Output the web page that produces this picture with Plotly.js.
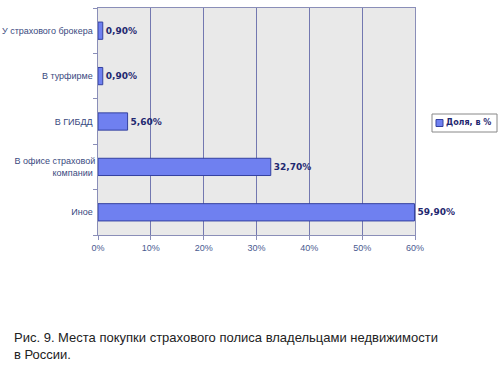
<!DOCTYPE html>
<html>
<head>
<meta charset="utf-8">
<script src="https://cdn.plot.ly/plotly-3.0.1.min.js"></script>
<style>html,body{margin:0;padding:0;background:#fff;}#chart{width:500px;height:365px;}</style>
</head>
<body>
<div id="chart"></div>
<script>
var categories = ["Иное", "В офисе страховой<br>компании", "В ГИБДД", "В турфирме", "У страхового брокера"];
var values = [59.9, 32.7, 5.6, 0.9, 0.9];
var valueLabels = ["59,90%", "32,70%", "5,60%", "0,90%", "0,90%"];
var tickVals = [0, 10, 20, 30, 40, 50, 60];
var tickText = ["0%", "10%", "20%", "30%", "40%", "50%", "60%"];
var seriesName = "Доля, в %";
var caption = "Рис. 9. Места покупки страхового полиса владельцами недвижимости<br>в России.";

var barColor = "#6f80f0", barLine = "#3340a0";

var trace = {
  type: "bar",
  orientation: "h",
  x: values,
  y: categories,
  name: seriesName,
  text: valueLabels,
  textposition: "outside",
  texttemplate: "%{text}",
  cliponaxis: false,
  textfont: {family: "Verdana, DejaVu Sans, sans-serif", size: 9, color: "#1f2870", weight: "bold"},
  marker: {color: barColor, line: {color: barLine, width: 1}},
  hoverinfo: "none"
};

var L = 98, R = 85, T = 8, B = 130;
var plotW = 500 - L - R, plotH = 365 - T - B;
function px(x) { return (x - L) / plotW; }
function py(y) { return (365 - B - y) / plotH; }

var layout = {
  width: 500, height: 365,
  margin: {l: L, r: R, t: T, b: B, autoexpand: false},
  paper_bgcolor: "#ffffff",
  plot_bgcolor: "#e9e9e9",
  bargap: 0.62,
  showlegend: false,
  xaxis: {
    range: [0, 60], tickvals: tickVals, ticktext: tickText,
    showgrid: true, gridcolor: "#7378b0", gridwidth: 1,
    zeroline: false, showline: true, linecolor: "#8a8eb8", mirror: true,
    ticks: "outside", ticklen: 4, tickcolor: "#8a8eb8",
    tickfont: {family: "Arial, Liberation Sans, sans-serif", size: 9, color: "#4a5a90"},
    fixedrange: true
  },
  yaxis: {
    type: "category",
    showgrid: false, showline: true, linecolor: "#8a8eb8", mirror: true,
    ticks: "outside", ticklen: 4, tickcolor: "#8a8eb8", tickson: "boundaries",
    tickfont: {family: "Arial, Liberation Sans, sans-serif", size: 9, color: "#3a4a80"},
    ticksuffix: " ",
    fixedrange: true
  },
  shapes: [
    {type: "rect", xref: "paper", yref: "paper", x0: px(432), x1: px(497), y0: py(132), y1: py(114),
     fillcolor: "#ffffff", line: {color: "#888888", width: 1}},
    {type: "rect", xref: "paper", yref: "paper", x0: px(436), x1: px(443), y0: py(126.5), y1: py(119.5),
     fillcolor: barColor, line: {color: barLine, width: 1}}
  ],
  annotations: [
    {text: caption, xref: "paper", yref: "paper",
     x: px(12), y: py(328), xanchor: "left", yanchor: "top", align: "left",
     showarrow: false,
     font: {family: "Arial, Liberation Sans, sans-serif", size: 13, color: "#222222"}},
    {text: "<b>" + seriesName + "</b>", xref: "paper", yref: "paper",
     x: px(444), y: py(123), xanchor: "left", yanchor: "middle", align: "left",
     showarrow: false,
     font: {family: "Verdana, DejaVu Sans, sans-serif", size: 8, color: "#1f2870"}}
  ]
};

Plotly.newPlot("chart", [trace], layout, {displayModeBar: false, staticPlot: true});
</script>
</body>
</html>
